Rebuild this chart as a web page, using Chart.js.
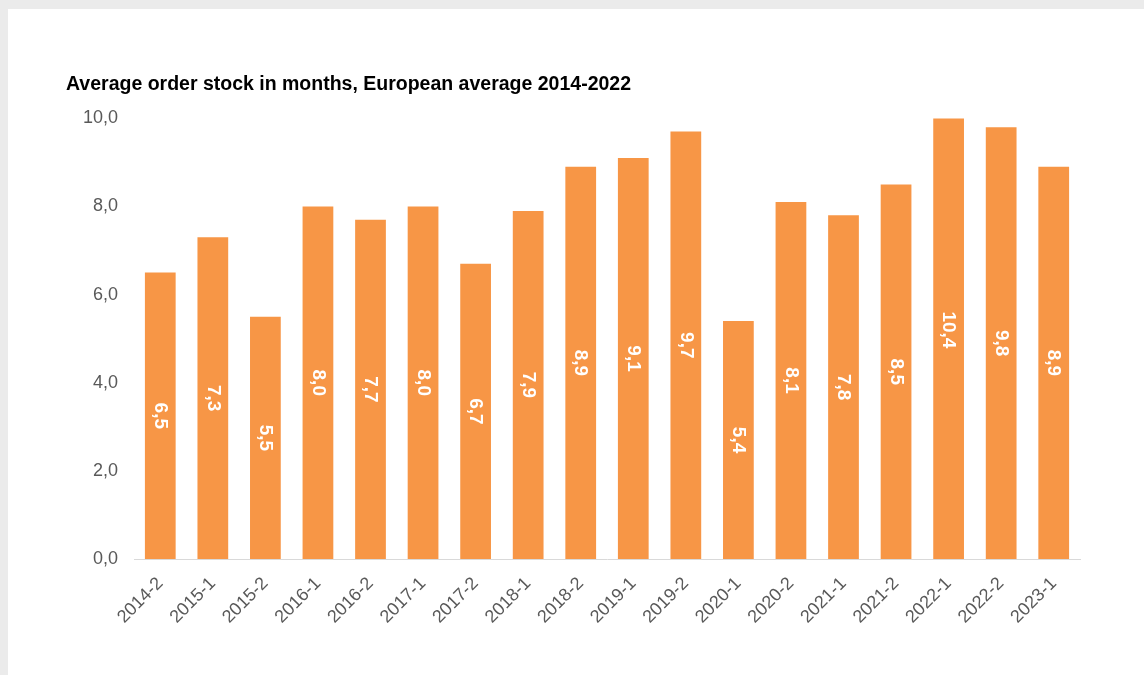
<!DOCTYPE html>
<html>
<head>
<meta charset="utf-8">
<script src="https://cdn.jsdelivr.net/npm/chart.js@4"></script>
<style>
    html, body { margin: 0; padding: 0; background: #ebebeb; }
    #panel { position: absolute; left: 8px; top: 9px; width: 1136px; height: 666px; background: #ffffff; }
    #chart { display: block; }
</style>
</head>
<body>
<div id="panel"><canvas id="chart" width="1136" height="666"></canvas></div>
<script>
// --- DATA ---
const periods = ['2014-2', '2015-1', '2015-2', '2016-1', '2016-2', '2017-1', '2017-2', '2018-1', '2018-2',
    '2019-1', '2019-2', '2020-1', '2020-2', '2021-1', '2021-2', '2022-1', '2022-2', '2023-1'];
const orderStock = [6.5, 7.3, 5.5, 8.0, 7.7, 8.0, 6.7, 7.9, 8.9, 9.1, 9.7, 5.4, 8.1, 7.8, 8.5, 10.4, 9.8, 8.9];
const yTicks = [0, 2, 4, 6, 8, 10];

const fmt = v => v.toFixed(1).replace('.', ',');

// value labels, rotated, centred in each bar
const barLabels = {
    id: 'barLabels',
    afterDatasetsDraw(chart) {
        const ctx = chart.ctx;
        const meta = chart.getDatasetMeta(0);
        ctx.save();
        ctx.fillStyle = '#ffffff';
        ctx.font = 'bold 19px "Liberation Sans", Arial, sans-serif';
        ctx.textAlign = 'center';
        ctx.textBaseline = 'middle';
        meta.data.forEach((bar, i) => {
            const cy = (bar.y + bar.base) / 2;
            ctx.save();
            ctx.translate(bar.x, cy);
            ctx.rotate(Math.PI / 2);
            ctx.fillText(fmt(orderStock[i]), 0, 0);
            ctx.restore();
        });
        ctx.restore();
    }
};

new Chart(document.getElementById('chart'), {
    type: 'bar',
    data: {
        labels: periods,
        datasets: [{
            data: orderStock,
            backgroundColor: '#f79646',
            barPercentage: 0.585,
            categoryPercentage: 1
        }]
    },
    options: {
        responsive: false,
        animation: false,
        layout: { padding: { left: 58, right: 64, top: 0, bottom: 0 } },
        scales: {
            x: {
                grid: { display: false, drawTicks: false },
                border: { display: true, color: '#d9d9d9', width: 1 },
                ticks: {
                    color: '#595959', minRotation: 45, maxRotation: 45, padding: 14,
                    font: { family: '"Liberation Sans", Arial, sans-serif', size: 18 }
                },
                afterFit: axis => { axis.height = 116; }
            },
            y: {
                min: 0, max: 10,
                grid: { display: false, drawTicks: false },
                border: { display: false },
                afterBuildTicks: axis => { axis.ticks = yTicks.map(v => ({ value: v })); },
                ticks: {
                    color: '#595959', padding: 16,
                    font: { family: '"Liberation Sans", Arial, sans-serif', size: 18 },
                    callback: v => fmt(v)
                },
                afterFit: axis => { axis.width = 68; }
            }
        },
        plugins: {
            legend: { display: false },
            tooltip: { enabled: false },
            title: {
                display: true,
                text: 'Average order stock in months, European average 2014-2022',
                align: 'start',
                color: '#000000',
                font: { family: '"Liberation Sans", Arial, sans-serif', size: 19.5, weight: 'bold' },
                padding: { top: 64, bottom: 22 }
            }
        }
    },
    plugins: [barLabels]
});
</script>
</body>
</html>
